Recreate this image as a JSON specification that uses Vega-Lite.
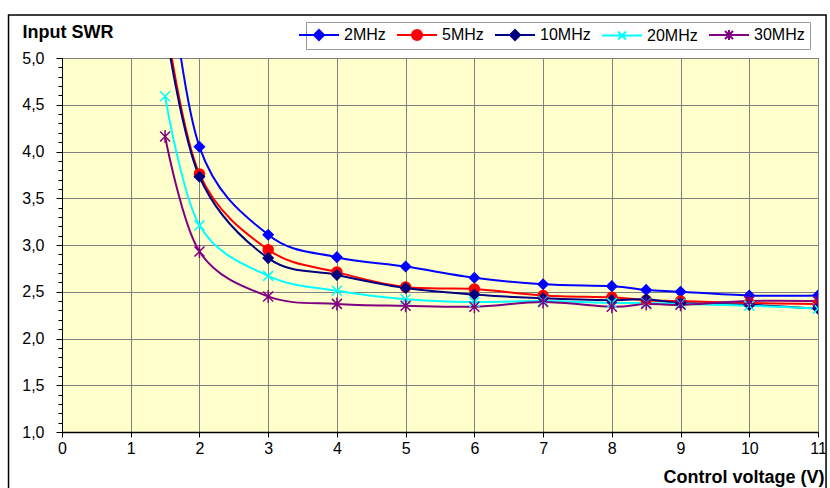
{
  "$schema": "https://vega.github.io/schema/vega-lite/v6.json",
  "width": 756,
  "height": 374,
  "autosize": {"type": "none"},
  "padding": {"left": 62, "top": 58, "right": 12, "bottom": 56},
  "background": "white",
  "config": {
    "font": "Liberation Sans",
    "view": {"fill": "#FFFFCC", "stroke": "#808080", "strokeWidth": 1},
    "axis": {
      "labelFont": "Liberation Sans", "labelFontSize": 16, "labelColor": "black",
      "titleFont": "Liberation Sans", "titleFontSize": 18, "titleFontWeight": "bold", "titleColor": "black",
      "domainColor": "black", "tickColor": "black", "gridColor": "#808080", "gridWidth": 1
    },
    "legend": {
      "orient": "none", "legendX": 244, "legendY": -36, "direction": "horizontal", "columns": 5,
      "labelFont": "Liberation Sans", "labelFontSize": 16, "labelColor": "black",
      "strokeColor": "#999999", "fillColor": "white", "padding": 5,
      "symbolSize": 100, "symbolStrokeWidth": 2, "labelOffset": 17, "columnPadding": 7, "labelLimit": 0
    }
  },
  "data": {
    "values": [
      {"v": 1.5, "swr": 6.3, "f": "2MHz"}, {"v": 2, "swr": 4.05, "f": "2MHz"}, {"v": 3, "swr": 3.11, "f": "2MHz"},
      {"v": 4, "swr": 2.87, "f": "2MHz"}, {"v": 5, "swr": 2.77, "f": "2MHz"}, {"v": 6, "swr": 2.65, "f": "2MHz"},
      {"v": 7, "swr": 2.58, "f": "2MHz"}, {"v": 8, "swr": 2.56, "f": "2MHz"}, {"v": 8.5, "swr": 2.52, "f": "2MHz"},
      {"v": 9, "swr": 2.5, "f": "2MHz"}, {"v": 10, "swr": 2.46, "f": "2MHz"}, {"v": 11, "swr": 2.46, "f": "2MHz"},
      {"v": 1.5, "swr": 5.45, "f": "5MHz"}, {"v": 2, "swr": 3.76, "f": "5MHz"}, {"v": 3, "swr": 2.95, "f": "5MHz"},
      {"v": 4, "swr": 2.71, "f": "5MHz"}, {"v": 5, "swr": 2.55, "f": "5MHz"}, {"v": 6, "swr": 2.53, "f": "5MHz"},
      {"v": 7, "swr": 2.46, "f": "5MHz"}, {"v": 8, "swr": 2.44, "f": "5MHz"}, {"v": 8.5, "swr": 2.41, "f": "5MHz"},
      {"v": 9, "swr": 2.4, "f": "5MHz"}, {"v": 10, "swr": 2.38, "f": "5MHz"}, {"v": 11, "swr": 2.37, "f": "5MHz"},
      {"v": 1.5, "swr": 5.35, "f": "10MHz"}, {"v": 2, "swr": 3.73, "f": "10MHz"}, {"v": 3, "swr": 2.86, "f": "10MHz"},
      {"v": 4, "swr": 2.68, "f": "10MHz"}, {"v": 5, "swr": 2.54, "f": "10MHz"}, {"v": 6, "swr": 2.47, "f": "10MHz"},
      {"v": 7, "swr": 2.43, "f": "10MHz"}, {"v": 8, "swr": 2.41, "f": "10MHz"}, {"v": 8.5, "swr": 2.42, "f": "10MHz"},
      {"v": 9, "swr": 2.38, "f": "10MHz"}, {"v": 10, "swr": 2.36, "f": "10MHz"}, {"v": 11, "swr": 2.32, "f": "10MHz"},
      {"v": 1.5, "swr": 4.59, "f": "20MHz"}, {"v": 2, "swr": 3.21, "f": "20MHz"}, {"v": 3, "swr": 2.67, "f": "20MHz"},
      {"v": 4, "swr": 2.51, "f": "20MHz"}, {"v": 5, "swr": 2.42, "f": "20MHz"}, {"v": 6, "swr": 2.39, "f": "20MHz"},
      {"v": 7, "swr": 2.4, "f": "20MHz"}, {"v": 8, "swr": 2.38, "f": "20MHz"}, {"v": 8.5, "swr": 2.38, "f": "20MHz"},
      {"v": 9, "swr": 2.37, "f": "20MHz"}, {"v": 10, "swr": 2.35, "f": "20MHz"}, {"v": 11, "swr": 2.32, "f": "20MHz"},
      {"v": 1.5, "swr": 4.16, "f": "30MHz"}, {"v": 2, "swr": 2.93, "f": "30MHz"}, {"v": 3, "swr": 2.45, "f": "30MHz"},
      {"v": 4, "swr": 2.37, "f": "30MHz"}, {"v": 5, "swr": 2.35, "f": "30MHz"}, {"v": 6, "swr": 2.34, "f": "30MHz"},
      {"v": 7, "swr": 2.39, "f": "30MHz"}, {"v": 8, "swr": 2.34, "f": "30MHz"}, {"v": 8.5, "swr": 2.37, "f": "30MHz"},
      {"v": 9, "swr": 2.36, "f": "30MHz"}, {"v": 10, "swr": 2.4, "f": "30MHz"}, {"v": 11, "swr": 2.4, "f": "30MHz"}
    ]
  },
  "layer": [
    {
      "mark": {"type": "line", "interpolate": "cardinal", "strokeWidth": 2, "clip": true},
      "encoding": {
        "x": {
          "field": "v", "type": "quantitative",
          "scale": {"domain": [0, 11], "nice": false, "zero": false},
          "axis": {
            "values": [0, 1, 2, 3, 4, 5, 6, 7, 8, 9, 10, 11], "format": "d", "tickCount": 100,
            "tickSize": 5, "labelPadding": 3, "grid": true, "domainWidth": 1.5,
            "title": "Control voltage (V)", "titleAnchor": "end", "titleAlign": "right",
            "titleX": 762, "titleY": 50, "titleBaseline": "alphabetic", "labelFlush": false
          }
        },
        "y": {
          "field": "swr", "type": "quantitative",
          "scale": {"domain": [1, 5], "nice": false, "zero": false},
          "axis": {
            "values": [1.0, 1.1, 1.2, 1.3, 1.4, 1.5, 1.6, 1.7, 1.8, 1.9, 2.0, 2.1, 2.2, 2.3, 2.4, 2.5, 2.6, 2.7, 2.8, 2.9, 3.0, 3.1, 3.2, 3.3, 3.4, 3.5, 3.6, 3.7, 3.8, 3.9, 4.0, 4.1, 4.2, 4.3, 4.4, 4.5, 4.6, 4.7, 4.8, 4.9, 5.0],
            "tickCount": 100,
            "labelExpr": "abs(datum.value*2 - round(datum.value*2)) < 0.01 ? replace(format(datum.value, '.1f'), '.', ',') : ''",
            "tickSize": {"condition": {"test": "abs(datum.value*2 - round(datum.value*2)) < 0.01", "value": 6}, "value": 4},
            "gridOpacity": {"condition": {"test": "abs(datum.value*2 - round(datum.value*2)) < 0.01", "value": 1}, "value": 0},
            "grid": true, "labelPadding": 12, "domainWidth": 1, "labelOverlap": false,
            "title": "Input SWR", "titleAngle": 0, "titleAlign": "left", "titleX": -40, "titleY": -21,
            "titleBaseline": "alphabetic"
          }
        },
        "color": {
          "field": "f", "type": "nominal",
          "scale": {"domain": ["2MHz", "5MHz", "10MHz", "20MHz", "30MHz"], "range": ["#0000FF", "#FF0000", "#000080", "#00FFFF", "#800080"]},
          "legend": {
            "title": null,
            "encode": {
              "symbols": {
                "update": {
                  "shape": {"signal": "datum.value === '5MHz' ? 'M-4,0L4,0M1,0A1,1,0,1,1,-1,0A1,1,0,1,1,1,0Z' : datum.value === '20MHz' ? 'M-4,0L4,0M-0.8,-0.8L0.8,0.8M-0.8,0.8L0.8,-0.8' : datum.value === '30MHz' ? 'M-4,0L4,0M-0.8,-0.8L0.8,0.8M-0.8,0.8L0.8,-0.8M0,-1L0,1' : 'M-4,0L4,0M0,-1L1,0L0,1L-1,0Z'"},
                  "fill": {"signal": "scale('color', datum.value)"},
                  "stroke": {"signal": "scale('color', datum.value)"},
                  "strokeWidth": {"value": 2},
                  "opacity": {"value": 1}
                }
              }
            }
          }
        }
      }
    },
    {
      "mark": {"type": "point", "filled": true, "size": 100, "strokeWidth": 1.5, "clip": true, "opacity": 1},
      "encoding": {
        "x": {"field": "v", "type": "quantitative"},
        "y": {"field": "swr", "type": "quantitative"},
        "fill": {
          "field": "f", "type": "nominal",
          "scale": {"domain": ["30MHz", "20MHz", "10MHz", "5MHz", "2MHz"], "range": ["#800080", "#00FFFF", "#000080", "#FF0000", "#0000FF"]},
          "legend": null
        },
        "stroke": {
          "field": "f", "type": "nominal",
          "scale": {"domain": ["5MHz", "2MHz", "10MHz", "30MHz", "20MHz"], "range": ["#FF0000", "#0000FF", "#000080", "#800080", "#00FFFF"]},
          "legend": null
        },
        "shape": {
          "field": "f", "type": "nominal",
          "scale": {"domain": ["10MHz", "20MHz", "30MHz", "2MHz", "5MHz"], "range": ["diamond", "M-1,-1L1,1M-1,1L1,-1", "M-1,-1L1,1M-1,1L1,-1M0,-1.3L0,1.3", "diamond", "circle"]},
          "legend": null
        }
      }
    },
    {
      "data": {"values": [{}]},
      "mark": {"type": "rect", "fill": null, "fillOpacity": 0, "stroke": "black", "strokeWidth": 1.5, "clip": false},
      "encoding": {
        "x": {
          "datum": -0.778, "type": "quantitative",
          "axis": {
            "values": [0, 1, 2, 3, 4, 5, 6, 7, 8, 9, 10, 11], "format": "d", "tickCount": 100,
            "tickSize": 5, "labelPadding": 3, "grid": true, "domainWidth": 1.5,
            "title": "Control voltage (V)", "titleAnchor": "end", "titleAlign": "right",
            "titleX": 762, "titleY": 50, "titleBaseline": "alphabetic", "labelFlush": false
          }
        },
        "x2": {"datum": 11.117},
        "y": {
          "datum": 5.46, "type": "quantitative",
          "axis": {
            "values": [1.0, 1.1, 1.2, 1.3, 1.4, 1.5, 1.6, 1.7, 1.8, 1.9, 2.0, 2.1, 2.2, 2.3, 2.4, 2.5, 2.6, 2.7, 2.8, 2.9, 3.0, 3.1, 3.2, 3.3, 3.4, 3.5, 3.6, 3.7, 3.8, 3.9, 4.0, 4.1, 4.2, 4.3, 4.4, 4.5, 4.6, 4.7, 4.8, 4.9, 5.0],
            "tickCount": 100,
            "labelExpr": "abs(datum.value*2 - round(datum.value*2)) < 0.01 ? replace(format(datum.value, '.1f'), '.', ',') : ''",
            "tickSize": {"condition": {"test": "abs(datum.value*2 - round(datum.value*2)) < 0.01", "value": 6}, "value": 4},
            "gridOpacity": {"condition": {"test": "abs(datum.value*2 - round(datum.value*2)) < 0.01", "value": 1}, "value": 0},
            "grid": true, "labelPadding": 12, "domainWidth": 1, "labelOverlap": false,
            "title": "Input SWR", "titleAngle": 0, "titleAlign": "left", "titleX": -40, "titleY": -21,
            "titleBaseline": "alphabetic"
          }
        },
        "y2": {"datum": 0.2}
      }
    }
  ]
}
